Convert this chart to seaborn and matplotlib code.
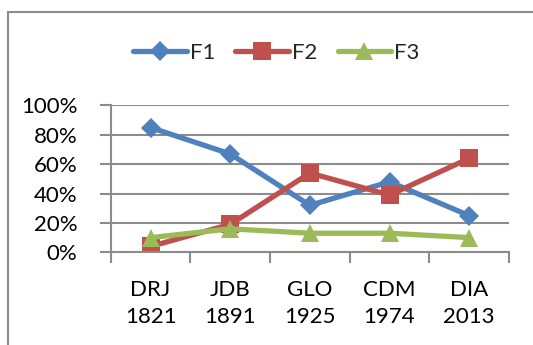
import matplotlib
matplotlib.use("Agg")
import matplotlib.pyplot as plt
import seaborn as sns
import pandas as pd
from matplotlib.patches import Rectangle
from matplotlib.ticker import FuncFormatter, FixedLocator

categories = ["DRJ\n1821", "JDB\n1891", "GLO\n1925", "CDM\n1974", "DIA\n2013"]
f1 = [85, 67, 32, 48, 25]
f2 = [4, 19, 54, 39, 64]
f3 = [10, 16, 13, 13, 10]
series_names = ["F1", "F2", "F3"]
yticks = [0, 20, 40, 60, 80, 100]

sns.set_theme(style="white")
plt.rcParams['font.family'] = ['Lato', 'DejaVu Sans']

fig = plt.figure(figsize=(5.33, 3.45), dpi=100)
W, H = 533, 345
ax = fig.add_axes([110.7 / W, 1 - 252.3 / H, (509 - 110.7) / W, (252.3 - 105.5) / H])

# border of chart area
fig.patches.append(Rectangle((8 / W, -0.1), 1.2, 1 - 12 / H + 0.1, transform=fig.transFigure,
                             fill=False, edgecolor="#8c8c8c", linewidth=1.5, zorder=0))

pos = list(range(len(categories)))
colors = ["#4F81BD", "#C0504D", "#9BBB59"]
markers = ["D", "s", "^"]
msizes = [10, 13.5, 13.5]
for name, vals, c, m, ms in zip(series_names, [f1, f2, f3], colors, markers, msizes):
    df = pd.DataFrame({"x": pos, "y": vals})
    sns.lineplot(data=df, x="x", y="y", ax=ax, color=c, marker=m, markersize=ms,
                 linewidth=3.8, markeredgewidth=0, label=name, solid_capstyle="round")

ax.set_xlim(-0.5, len(categories) - 0.5)
ax.set_ylim(0, 100)
ax.set_xlabel("")
ax.set_ylabel("")

ax.set_yticks(yticks)
ax.yaxis.set_major_formatter(FuncFormatter(lambda v, p: f"{int(v)}%"))
ax.yaxis.grid(True, color="#8c8c8c", linewidth=1.5)
ax.set_axisbelow(True)

ax.set_xticks(pos)
ax.set_xticklabels(categories, linespacing=1.45)
ax.xaxis.set_minor_locator(FixedLocator([p - 0.5 for p in pos] + [pos[-1] + 0.5]))
ax.tick_params(axis="x", which="major", length=0, pad=20, labelsize=16, colors="black")
ax.tick_params(axis="x", which="minor", length=8, width=1.5, color="#8c8c8c", direction="out", bottom=True)
ax.tick_params(axis="y", which="major", length=8, width=1.5, color="#8c8c8c", direction="out",
               left=True, pad=16, labelsize=16, labelcolor="black")

for s in ["top", "right"]:
    ax.spines[s].set_visible(False)
for s in ["left", "bottom"]:
    ax.spines[s].set_color("#8c8c8c")
    ax.spines[s].set_linewidth(1.5)

handles, labels = ax.get_legend_handles_labels()
leg = fig.legend(handles, labels, loc="center", bbox_to_anchor=(276.5 / W, 1 - 52.7 / H), ncol=3,
                 frameon=False, fontsize=16, handlelength=2.4, handletextpad=0.15, columnspacing=0.9)
ax.get_legend().remove() if ax.get_legend() else None

fig.savefig("out.png", dpi=100)
